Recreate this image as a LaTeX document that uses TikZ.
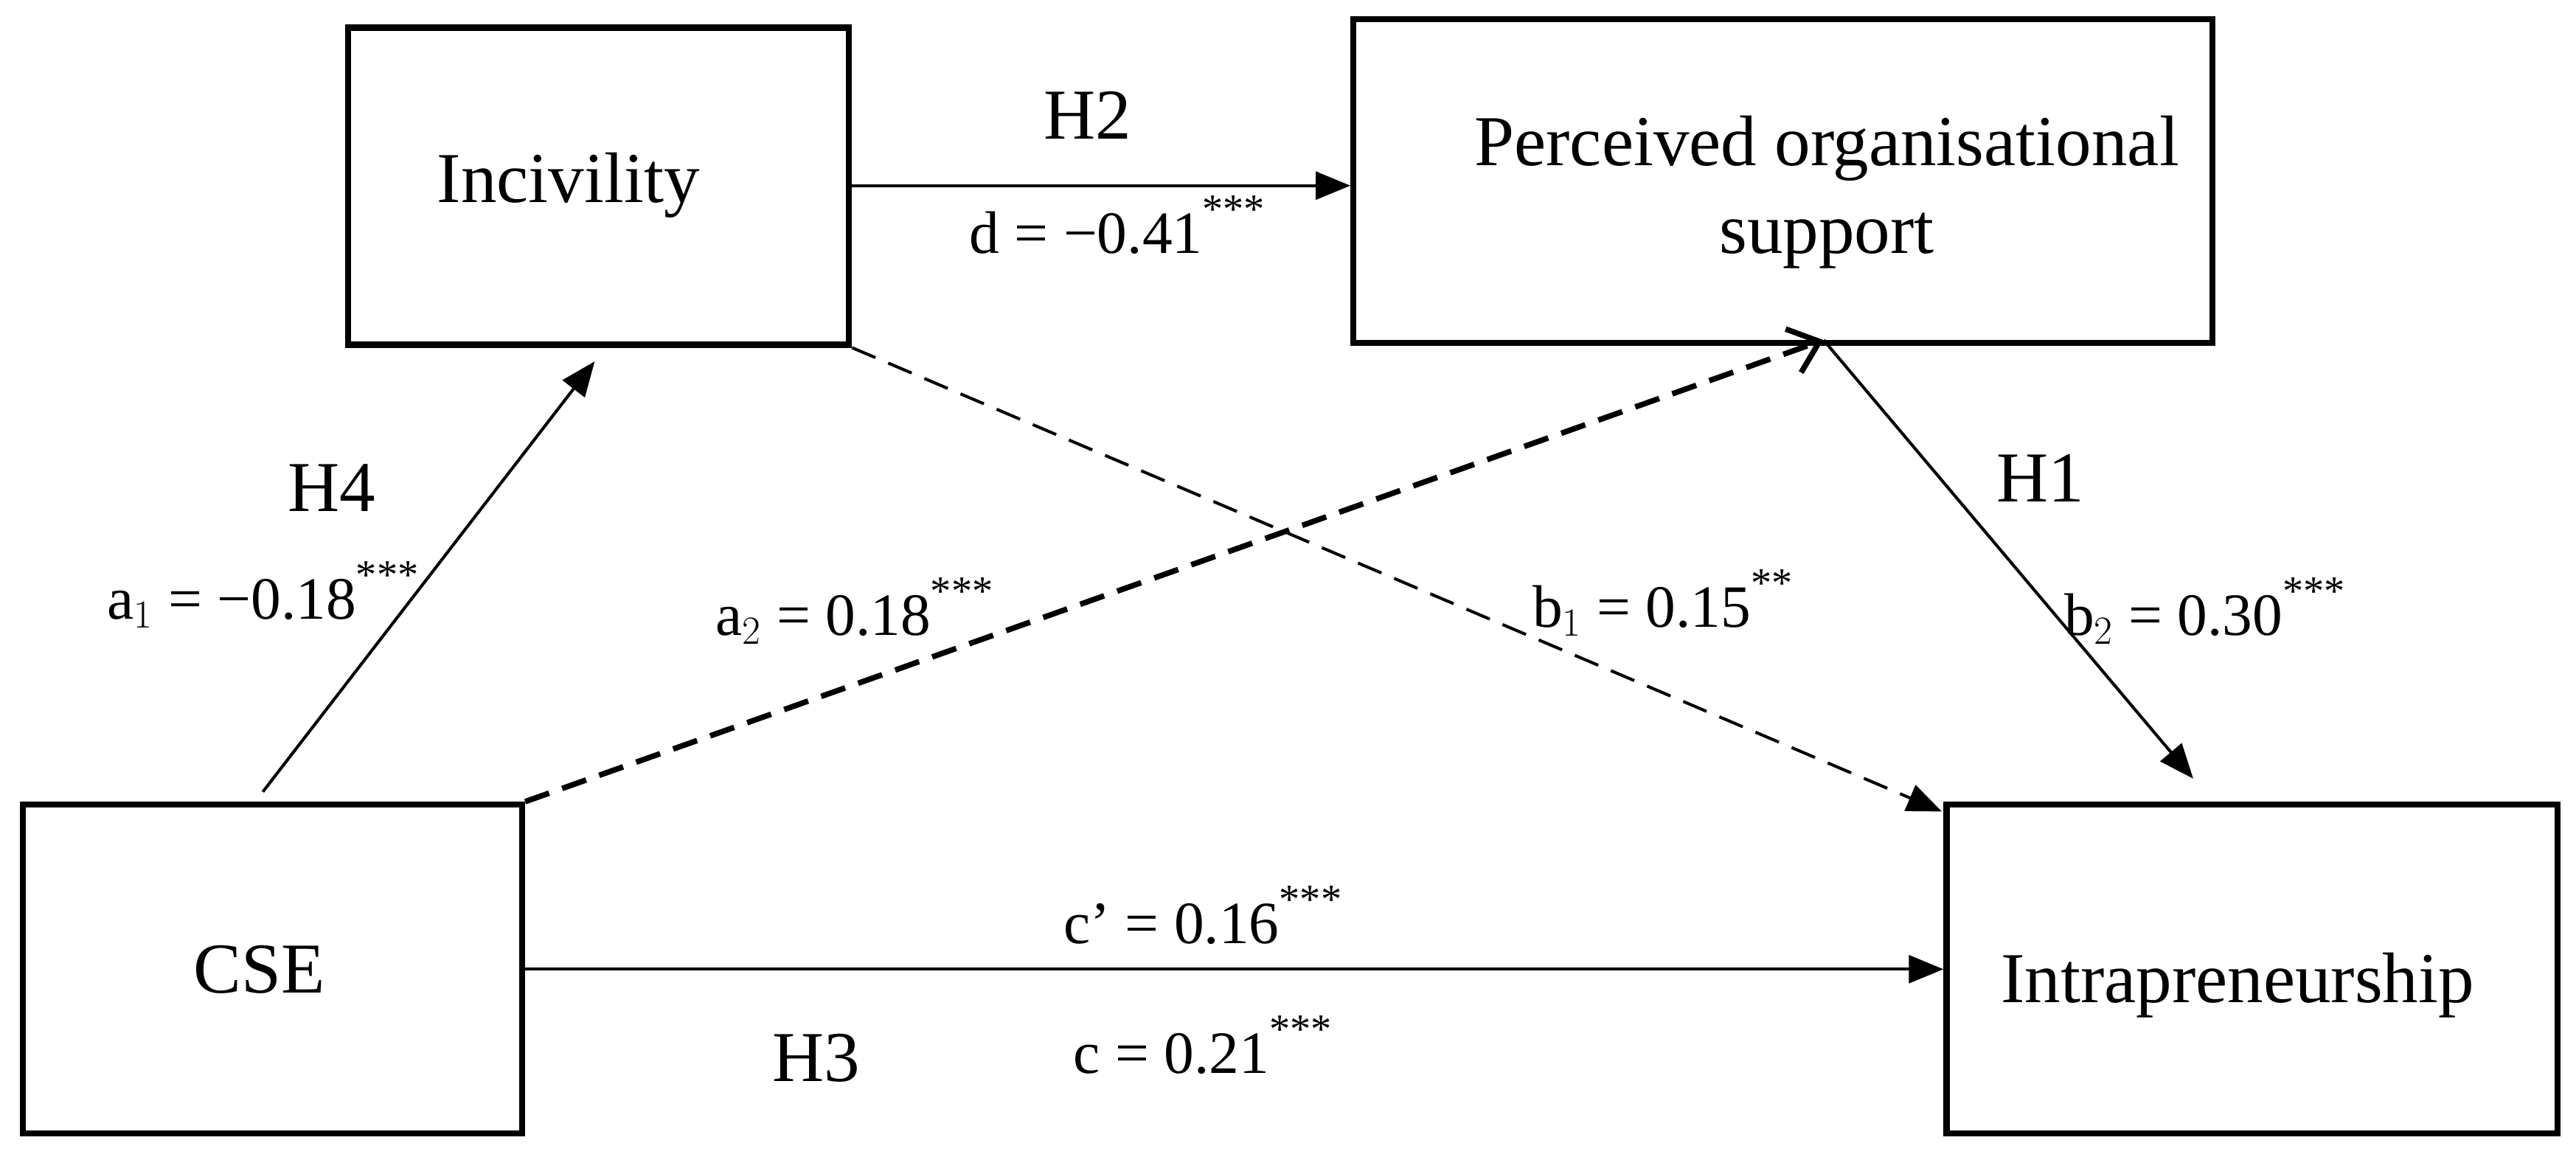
\documentclass[tikz,border=0pt]{standalone}
\usepackage{fontspec}
\setmainfont{Liberation Serif}
\usetikzlibrary{arrows.meta}
\newcommand{\st}[1]{\raisebox{1.1ex}{\fontsize{18}{20}\selectfont #1}}
\begin{document}
\begin{tikzpicture}[x=0.025cm,y=-0.025cm,
  box/.style={draw,line width=2.6pt,anchor=north west,inner sep=0pt},
  lab/.style={font=\fontsize{31}{38}\selectfont},
  sl/.style={font=\fontsize{26}{30}\selectfont},
  dsh/.style={dash pattern=on 11pt off 6pt},
  arr/.style={line width=1.3pt,-{Triangle[length=15pt,width=12pt]}}]
\useasboundingbox (0,0) rectangle (1568,704);
\node[box,minimum width=305*0.025cm,minimum height=193*0.025cm] (inc) at (210,15) {};
\node[lab] at (346,113) {Incivility};
\node[box,minimum width=523*0.025cm,minimum height=197*0.025cm] (pos) at (822,10) {};
\node[lab,align=center] at (1112,117) {Perceived organisational\\support};
\node[box,minimum width=304*0.025cm,minimum height=200*0.025cm] (cse) at (12,488) {};
\node[lab] at (158,590) {CSE};
\node[box,minimum width=372*0.025cm,minimum height=200*0.025cm] (int) at (1183,488) {};
\node[lab] at (1362,600) {Intrapreneurship};
\coordinate (c1) at (160,482);
\coordinate (i1) at (362,220);
\coordinate (posb) at (1110,207);
\coordinate (i2) at (1335,474);
\coordinate (i3) at (1182,494);
\draw[arr] (c1) -- (i1);
\draw[arr] (inc.east |- 0,113) -- (pos.west |- 0,113);
\draw[arr,dsh] (inc.south east) -- (i3);
\draw[line width=2.4pt,dsh,-{Straight Barb[length=12pt,width=20pt]}] (cse.north east) -- (posb);
\draw[arr] (posb) -- (i2);
\draw[arr] (cse.east |- 0,590) -- (int.west |- 0,590);
\node[lab] at (662,70) {H2};
\node[sl] at (680,137) {d = −0.41\st{***}};
\node[lab] at (202,297) {H4};
\node[sl] at (160,362) {a$_1$ = −0.18\st{***}};
\node[sl] at (520,372) {a$_2$ = 0.18\st{***}};
\node[sl] at (1012,367) {b$_1$ = 0.15\st{**}};
\node[lab] at (1242,291) {H1};
\node[sl] at (1342,372) {b$_2$ = 0.30\st{***}};
\node[sl] at (732,557) {c’ = 0.16\st{***}};
\node[lab] at (497,644) {H3};
\node[sl] at (732,636) {c = 0.21\st{***}};
\end{tikzpicture}
\end{document}
